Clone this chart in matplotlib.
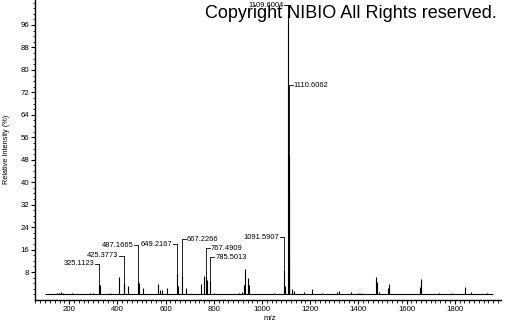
import numpy as np
import matplotlib
matplotlib.use("Agg")
import matplotlib.pyplot as plt
from matplotlib.ticker import MultipleLocator, FixedLocator

# peaks (m/z, relative intensity %)
peak_mz = [148, 158, 166, 175, 210, 288, 298,
           325.1123, 327, 369,
           407, 425.3773, 427, 445,
           487.1665, 491, 508,
           570, 577, 587, 607,
           649.2167, 651, 667.2266, 684,
           747, 761, 767.4909, 770, 785.5013,
           799, 850, 905, 918,
           925, 928, 942, 946,
           1050, 1091.5907, 1095.8, 1109.6004, 1110.6062, 1111.6, 1112.6,
           1126, 1131, 1175, 1206.6, 1248,
           1313, 1320, 1369, 1400, 1410,
           1472.5, 1476.6, 1486, 1521, 1528,
           1657, 1661, 1735.6, 1787, 1843.7, 1867, 1934]
peak_int = [0.5, 0.6, 0.8, 0.5, 0.4, 0.5, 0.4,
            4.0, 3.5, 0.5,
            6.1, 4.0, 4.0, 3.0,
            5.0, 4.0, 2.4,
            3.6, 1.5, 1.5, 2.4,
            7.5, 3.0, 7.0, 2.4,
            3.7, 6.6, 6.6, 5.0, 5.0,
            0.5, 0.3, 0.6, 1.0,
            3.4, 9.1, 5.8, 3.4,
            0.4, 8.7, 3.0, 100, 50, 36, 12,
            1.9, 1.2, 0.8, 1.9, 0.5,
            0.8, 1.2, 0.8, 0.5, 0.5,
            6.1, 4.3, 1.0, 2.2, 3.7,
            2.7, 5.5, 0.5, 0.7, 2.7, 0.8, 0.6]
trace_start, trace_end = 100, 1960

# labelled peaks: where the leader hooks over and on which side the text sits
label_mz = [325.1123, 425.3773, 487.1665, 649.2167, 667.2266,
            767.4909, 785.5013, 1091.5907, 1109.6004, 1110.6062]
label_level = [10.9, 13.8, 17.6, 17.9, 19.7, 16.5, 13.2, 20.4, 103, 74.6]
label_side = ['l', 'l', 'l', 'l', 'r', 'r', 'r', 'l', 'l', 'r']

xticks = [200, 400, 600, 800, 1000, 1200, 1400, 1600, 1800]
yticks = [8, 16, 24, 32, 40, 48, 56, 64, 72, 80, 88, 96]

plt.rcParams['font.family'] = ['Liberation Sans', 'DejaVu Sans']

fig = plt.figure(figsize=(5.05, 3.25), dpi=100)
ax = fig.add_axes([35/505, 25/325, 466/505, 300/325])

lw = 0.8
ax.hlines(0, trace_start, trace_end, color='black', lw=lw)
ax.vlines(peak_mz, 0, peak_int, color='black', lw=lw)

# leaders + labels
for mz, lev, side in zip(label_mz, label_level, label_side):
    h = peak_int[peak_mz.index(mz)]
    ax.vlines(mz, h, lev, color='black', lw=0.6)
    d = -17 if side == 'l' else 17
    ax.plot([mz, mz + d], [lev, lev], color='black', lw=0.6)
    ax.text(mz + d * 1.25, lev, f"{mz:.4f}", fontsize=5.4,
            ha='right' if side == 'l' else 'left', va='center')

ax.set_xlim(58, 1992)
ax.set_ylim(-1.96, 104.9)

for s in ['top', 'right']:
    ax.spines[s].set_visible(False)
ax.spines['left'].set_linewidth(1)
ax.spines['bottom'].set_linewidth(1)

ax.xaxis.set_major_locator(FixedLocator(xticks))
ax.xaxis.set_minor_locator(MultipleLocator(20))
ax.yaxis.set_major_locator(FixedLocator(yticks))
ax.yaxis.set_minor_locator(MultipleLocator(2))
ax.tick_params(which='major', length=3, width=0.8, labelsize=5.6, pad=1)
ax.tick_params(which='minor', length=1.8, width=0.6)

fig.text(7/505, 1 - 149/325, 'Relative Intensity (%)', rotation=90,
         ha='center', va='center', fontsize=5.3)
fig.text(270/505, 1 - 318.5/325, 'm/z', ha='center', va='center', fontsize=5.6)

fig.text(497/505, 1 - 18.3/325, 'Copyright NIBIO All Rights reserved.',
         ha='right', va='baseline', fontsize=13, color='black')

fig.savefig('out.png', dpi=100)
